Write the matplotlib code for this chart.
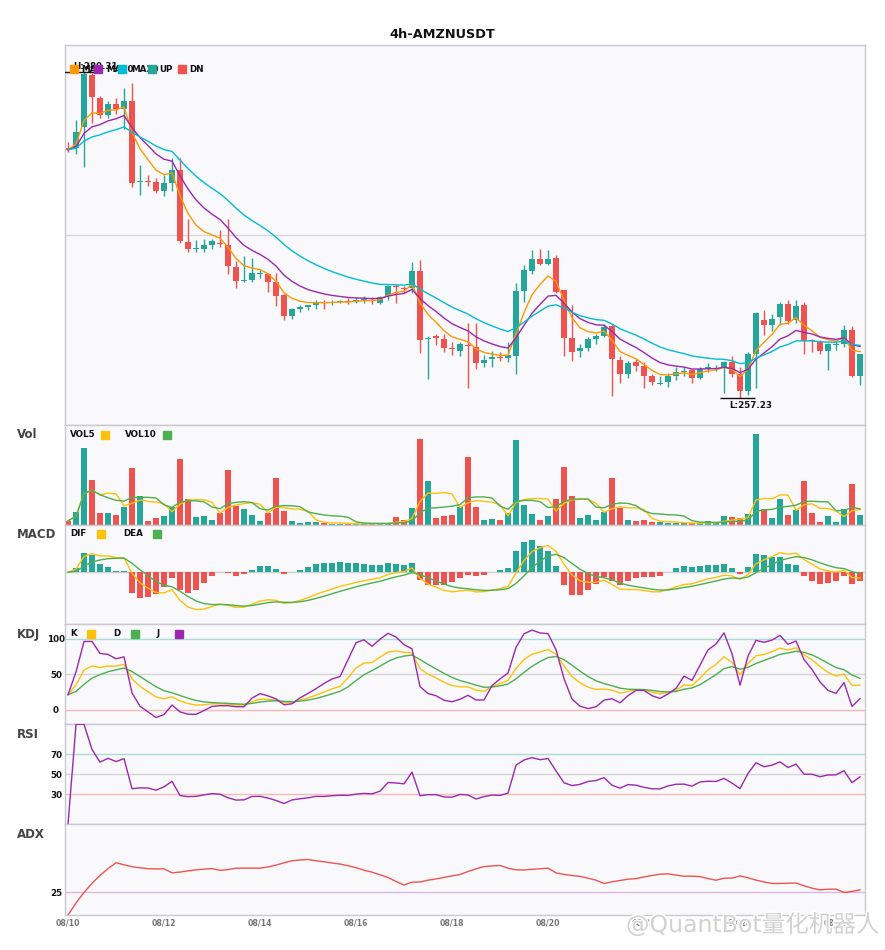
import numpy as np
import pandas as pd
import matplotlib
matplotlib.use('Agg')
import matplotlib.pyplot as plt
import matplotlib.patheffects as pe

title = '4h-AMZNUSDT'
tick_labels = ['08/10', '08/12', '08/14', '08/16', '08/18', '08/20', '08/22', '08/24', '08/26']

# 4h candles, 08/10 -> 08/26
opens = [274.92, 274.96, 276.39, 280.12, 278.48, 277.27, 278.05, 277.69, 278.26, 272.50,
         272.60, 272.51, 271.87, 272.42, 273.40, 268.26, 267.77, 267.80, 268.09, 268.20,
         268.07, 266.53, 265.50, 265.60, 266.02, 266.00, 265.45, 264.51, 263.01, 263.51,
         263.67, 263.84, 264.00, 263.97, 264.00, 264.10, 264.05, 264.08, 264.20, 263.96,
         264.44, 265.15, 265.03, 265.03, 266.22, 261.40, 261.60, 261.42, 260.75, 260.58,
         261.00, 260.82, 259.68, 260.00, 260.12, 260.04, 260.23, 264.79, 266.24, 267.07,
         266.72, 267.17, 264.86, 261.46, 260.52, 260.75, 261.38, 261.61, 262.30, 259.95,
         258.93, 259.80, 259.52, 258.81, 258.25, 258.33, 258.81, 259.05, 259.22, 258.64,
         259.29, 259.30, 259.40, 259.80, 258.93, 257.69, 260.35, 262.72, 262.37, 262.96,
         263.86, 262.72, 263.79, 261.30, 261.18, 260.59, 260.98, 261.02, 262.02, 258.81]
highs = [275.35, 276.91, 280.31, 280.24, 278.64, 278.24, 278.48, 279.19, 279.53, 273.70,
         272.99, 272.83, 272.99, 274.25, 274.25, 269.92, 268.43, 268.48, 268.48, 269.14,
         269.92, 266.93, 267.31, 267.17, 266.31, 266.10, 266.10, 264.60, 263.60, 263.80,
         263.83, 264.15, 264.15, 264.20, 264.20, 264.30, 264.35, 264.45, 264.35, 264.43,
         265.22, 265.29, 265.15, 266.88, 267.00, 261.59, 261.73, 261.73, 261.18, 261.18,
         262.53, 262.53, 260.28, 260.59, 260.47, 261.18, 265.34, 266.65, 267.72, 267.79,
         267.72, 267.36, 264.90, 263.80, 261.07, 261.54, 261.78, 262.44, 262.44, 260.23,
         259.83, 260.00, 259.75, 258.93, 258.81, 258.97, 259.40, 259.40, 259.29, 259.40,
         259.71, 259.59, 259.88, 260.23, 259.44, 260.47, 263.32, 263.49, 263.15, 264.03,
         264.15, 264.15, 264.03, 261.42, 261.35, 261.11, 261.25, 262.37, 262.30, 260.35]
lows = [274.65, 274.54, 273.58, 276.67, 277.05, 277.05, 277.34, 276.27, 272.16, 271.59,
        272.23, 271.76, 271.52, 271.92, 268.19, 267.55, 267.55, 267.60, 267.79, 267.95,
        265.99, 265.03, 265.41, 265.41, 265.70, 264.70, 263.75, 262.73, 262.80, 263.32,
        263.44, 263.56, 263.50, 263.80, 263.95, 263.85, 263.95, 263.95, 263.90, 263.90,
        264.15, 263.92, 264.63, 264.63, 260.40, 258.57, 260.95, 260.47, 260.29, 260.20,
        257.97, 259.28, 259.40, 259.40, 259.88, 259.75, 258.93, 264.00, 265.99, 266.65,
        266.65, 264.63, 260.23, 259.83, 260.11, 260.52, 261.07, 261.54, 257.40, 258.26,
        258.64, 259.16, 257.97, 258.16, 258.16, 258.02, 258.50, 258.81, 258.26, 258.57,
        259.05, 259.16, 257.55, 258.69, 257.23, 257.45, 257.97, 261.72, 261.97, 262.37,
        262.49, 262.53, 260.35, 260.47, 260.31, 259.23, 260.64, 260.87, 258.69, 258.16]
closes = [274.80, 276.03, 280.19, 278.53, 277.29, 278.05, 277.69, 278.26, 272.42, 272.58,
          272.54, 271.87, 272.42, 273.40, 268.31, 267.77, 267.82, 268.09, 268.31, 268.10,
          266.60, 265.53, 265.57, 266.08, 266.10, 265.45, 264.46, 263.01, 263.51, 263.67,
          263.79, 263.99, 263.95, 264.03, 264.08, 264.03, 264.15, 264.22, 264.13, 264.35,
          265.15, 265.08, 264.97, 266.22, 261.35, 261.50, 261.50, 260.78, 260.70, 261.02,
          260.88, 259.68, 259.95, 260.11, 260.05, 260.28, 264.79, 266.29, 267.07, 266.72,
          267.07, 264.74, 261.46, 260.47, 260.75, 261.40, 261.61, 262.25, 260.00, 258.93,
          259.71, 259.52, 258.81, 258.33, 258.30, 258.81, 259.10, 259.12, 258.64, 259.29,
          259.40, 259.36, 259.80, 258.93, 257.69, 260.35, 263.22, 262.37, 262.84, 263.86,
          262.68, 263.72, 261.25, 261.25, 260.59, 261.02, 261.04, 262.02, 258.81, 260.31]
volumes = [11, 38, 230, 133, 34, 34, 28, 52, 169, 85,
           11, 19, 25, 52, 196, 76, 22, 25, 13, 34,
           163, 56, 46, 28, 11, 34, 139, 40, 10, 4,
           7, 7, 5, 2, 2, 2, 2, 3, 2, 3,
           4, 22, 13, 49, 256, 130, 19, 25, 28, 52,
           202, 52, 13, 16, 13, 34, 253, 58, 31, 13,
           25, 76, 172, 85, 19, 28, 13, 37, 139, 49,
           13, 10, 13, 7, 7, 5, 5, 3, 3, 4,
           10, 5, 25, 22, 19, 31, 271, 46, 19, 76,
           28, 43, 130, 34, 7, 25, 7, 46, 121, 28]

UP = '#26a69a'
DN = '#ef5350'

df = pd.DataFrame({'open': opens, 'high': highs, 'low': lows,
                   'close': closes, 'vol': volumes})
x = np.arange(len(df))
c = df['close']


def ema(s, n):
    return s.ewm(span=n, adjust=False).mean()


# indicators
ma5, ma10, ma20 = ema(c, 5), ema(c, 10), ema(c, 20)
vol5 = df['vol'].rolling(5, min_periods=1).mean()
vol10 = df['vol'].rolling(10, min_periods=1).mean()

dif = ema(c, 6) - ema(c, 13)
dea = ema(dif, 5)
hist = 2 * (dif - dea)

low9 = df['low'].rolling(9, min_periods=1).min()
high9 = df['high'].rolling(9, min_periods=1).max()
rsv = (c - low9) / (high9 - low9) * 100
k = rsv.ewm(com=2, adjust=False).mean()
d = k.ewm(com=2, adjust=False).mean()
j = 3 * k - 2 * d

delta = c.diff().fillna(0)
gain = delta.clip(lower=0).ewm(alpha=1/14, adjust=False).mean()
loss = (-delta.clip(upper=0)).ewm(alpha=1/14, adjust=False).mean()
rsi = (100 * gain / (gain + loss)).fillna(0)

prev_c = c.shift(1)
tr = pd.concat([df['high'] - df['low'], (df['high'] - prev_c).abs(),
                (df['low'] - prev_c).abs()], axis=1).max(axis=1)
up_move = df['high'].diff()
dn_move = -df['low'].diff()
pdm = pd.Series(np.where((up_move > dn_move) & (up_move > 0), up_move, 0.0))
mdm = pd.Series(np.where((dn_move > up_move) & (dn_move > 0), dn_move, 0.0))
atr = ema(tr, 14)
pdi = 100 * ema(pdm, 14) / atr
mdi = 100 * ema(mdm, 14) / atr
dx = (100 * (pdi - mdi).abs() / (pdi + mdi)).fillna(0)
adx = ema(dx, 14)

# figure layout in pixels
W, H = 885, 950
fig = plt.figure(figsize=(W / 100, H / 100), dpi=100)
L0, AW = 65.3, 800


def panel(top, bottom):
    ax = fig.add_axes([L0 / W, 1 - bottom / H, AW / W, (bottom - top) / H])
    ax.set_facecolor('#f9f9fb')
    for s in ax.spines.values():
        s.set_color('#c8c8d0')
        s.set_linewidth(1)
    ax.set_xlim(-0.34, len(df) - 0.34)
    ax.set_xticks([])
    ax.set_yticks([])
    ax.tick_params(length=0)
    return ax


bounds = [(45, 425), (425, 524.5), (524.5, 624.3), (624.3, 724.3),
          (724.3, 824.3), (824.3, 915)]
axes = [panel(t, b) for t, b in bounds]
ax_p, ax_v, ax_m, ax_k, ax_r, ax_a = axes

fig.text(0.5, 1 - 34 / H, title, ha='center', va='center',
         fontsize=9.3, fontweight='bold', color='#111')
for name, (t, b) in zip(['', 'Vol', 'MACD', 'KDJ', 'RSI', 'ADX'], bounds):
    if name:
        fig.text(17 / W, 1 - (t + 10) / H, name, ha='left', va='center',
                 fontsize=8.5, fontweight='bold', color='#444')


def legend(ax, items, dy):
    hpx = ax.get_position().height * H
    fy = 1 - dy / hpx
    for label, color, tx, sx in items:
        ax.text((tx - L0) / AW, fy, label, transform=ax.transAxes, ha='left',
                va='center', fontsize=6.3, fontweight='bold', color='#111', zorder=6)
        ax.plot([(sx - L0) / AW], [fy], marker='s', ms=5.5, color=color,
                transform=ax.transAxes, clip_on=False, zorder=7, ls='none')


# price panel
colors = [UP if cl >= op else DN for op, cl in zip(df['open'], df['close'])]
body = np.maximum((df['close'] - df['open']).abs(), 0.07)
bottom = np.minimum(df['open'], df['close'])
ax_p.vlines(x, df['low'], df['high'], colors=colors, lw=1, zorder=2)
ax_p.bar(x, body, bottom=bottom, width=0.75, color=colors, zorder=2)
ax_p.plot(x, ma5, color='#ff9800', lw=1.0, zorder=3)
ax_p.plot(x, ma10, color='#9c27b0', lw=1.0, zorder=3)
ax_p.plot(x, ma20, color='#00bcd4', lw=1.0, zorder=3)
hi, lo = df['high'].max(), df['low'].min()
rng = hi - lo
ax_p.set_ylim(lo - 0.083 * rng, hi + 0.083 * rng)
ax_p.axhline(sum(ax_p.get_ylim()) / 2, color='#d8d8dc', lw=1, zorder=0)
ih, il = int(df['high'].idxmax()), int(df['low'].idxmin())
ax_p.hlines([hi], ih - 2.6, ih + 2, color='#111', lw=1, zorder=4)
ax_p.hlines([lo], il - 2.5, il + 1.9, color='#111', lw=1, zorder=4)
ax_p.annotate(f'H:{hi:.2f}', (ih, hi), xytext=(-11, 6), textcoords='offset pixels',
              ha='left', va='center', fontsize=6.3, fontweight='bold', color='#111', zorder=4)
ax_p.annotate(f'L:{lo:.2f}', (il, lo), xytext=(-11, -8), textcoords='offset pixels',
              ha='left', va='center', fontsize=6.3, fontweight='bold', color='#111', zorder=4)
legend(ax_p, [('MA5', '#ff9800', 81, 74), ('MA10', '#9c27b0', 106, 98),
              ('MA20', '#00bcd4', 131, 122), ('UP', UP, 159, 152),
              ('DN', DN, 189, 182)], 24)

# volume
ax_v.bar(x, df['vol'], width=0.75, color=colors, zorder=2)
ax_v.plot(x, vol5, color='#ffc107', lw=1.0, zorder=3)
ax_v.plot(x, vol10, color='#4caf50', lw=1.0, zorder=3)
ax_v.set_ylim(0, df['vol'].max() * 1.1)
legend(ax_v, [('VOL5', '#ffc107', 70, 104.5), ('VOL10', '#4caf50', 125, 166.5)], 9.5)

# macd
ax_m.axhline(0, color='#cccccc', lw=1, zorder=1)
ax_m.bar(x, hist, width=0.75, color=[UP if v >= 0 else DN for v in hist], zorder=2)
ax_m.plot(x, dif, color='#ffc107', lw=1.0, zorder=3)
ax_m.plot(x, dea, color='#4caf50', lw=1.0, zorder=3)
mlo = min(dif.min(), dea.min(), hist.min())
mhi = max(dif.max(), dea.max(), hist.max())
ax_m.set_ylim(mlo - 0.21 * (mhi - mlo), mhi + 0.22 * (mhi - mlo))
legend(ax_m, [('DIF', '#ffc107', 70, 101), ('DEA', '#4caf50', 123, 157)], 9.5)


def yticks(ax, vals):
    ax.set_yticks(vals)
    ax.set_yticklabels([str(v) for v in vals], fontsize=6.3, fontweight='bold',
                       color='#111', ha='center')
    ax.tick_params(axis='y', length=0, pad=6.7)


# kdj
for lvl, col in [(100, '#a8dcd9'), (50, '#d5d5d8'), (0, '#f8b8b8')]:
    ax_k.axhline(lvl, color=col, lw=1, zorder=1)
ax_k.plot(x, k, color='#ffc107', lw=1.0, zorder=3)
ax_k.plot(x, d, color='#4caf50', lw=1.0, zorder=3)
ax_k.plot(x, j, color='#9c27b0', lw=1.0, zorder=3)
ax_k.set_ylim(-20.3, 120.7)
yticks(ax_k, [0, 50, 100])
legend(ax_k, [('K', '#ffc107', 70, 91), ('D', '#4caf50', 113, 135),
              ('J', '#9c27b0', 157, 179)], 9.5)

# rsi
for lvl, col in [(70, '#a8dcd9'), (50, '#d5d5d8'), (30, '#f8b8b8')]:
    ax_r.axhline(lvl, color=col, lw=1, zorder=1)
ax_r.plot(x, rsi, color='#9c27b0', lw=1.0, zorder=3)
ax_r.set_ylim(0, 100)
yticks(ax_r, [30, 50, 70])

# adx
ax_a.axhline(25, color='#dcb4e6', lw=1, zorder=1)
ax_a.plot(x, adx, color='#ef5350', lw=1.0, zorder=3)
ax_a.set_ylim(0, 100)
yticks(ax_a, [25])
ax_a.set_xticks(x[::12])
ax_a.set_xticklabels(tick_labels, fontsize=5.6, fontweight='bold', color='#777')
ax_a.tick_params(axis='x', length=0, pad=2.5)

fig.text(880 / W, 1 - 925 / H, '@QuantBot量化机器人', ha='right', va='center',
         fontsize=17, color='#d2d2d2', family=['DejaVu Sans', 'Noto Sans CJK SC'],
         path_effects=[pe.withStroke(linewidth=2, foreground='white')], zorder=10)

fig.savefig('out.png', dpi=100, facecolor='white')
